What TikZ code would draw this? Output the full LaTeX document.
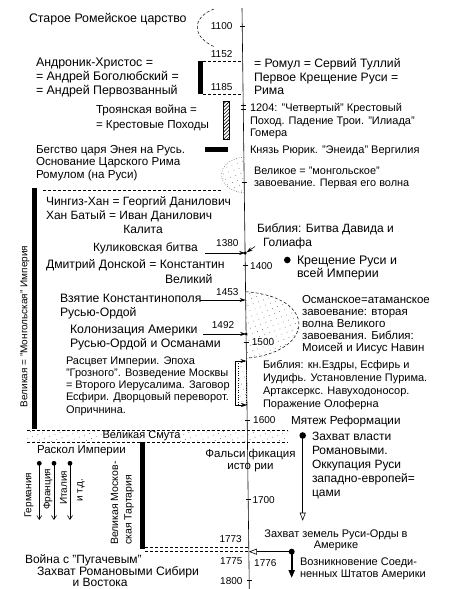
\documentclass[tikz,border=0pt]{standalone}
\usepackage{fontspec}
\setmainfont{Liberation Sans}
\usetikzlibrary{arrows.meta,patterns.meta}
\begin{document}
\begin{tikzpicture}[x=1pt,y=-1pt,
  T/.style 2 args={inner sep=0pt,outer sep=0pt,align=left,anchor=north west,font=\fontsize{#1}{#2}\selectfont},
  Y/.style={inner sep=0pt,anchor=west,font=\fontsize{10}{12}\selectfont},
  R/.style={inner sep=0pt,rotate=90,font=\fontsize{10}{12}\selectfont},
  tickm/.style={line width=0.5pt},
  bar/.style={line width=5pt},
  dashln/.style={dash pattern=on 3pt off 2pt,line width=0.5pt},
  stip/.style={pattern={Dots[distance=5.5pt,radius=0.4pt,angle=20]},pattern color=black!70},
  ar/.style={-{Stealth[length=6pt,width=4pt]},line width=0.6pt},
  opentip/.style={-{Triangle[open,length=8pt,width=6pt]},line width=0.6pt},
  barb/.style={-{Straight Barb[length=4pt,width=5pt]},line width=0.6pt},
]
\useasboundingbox (0,0) rectangle (450,589);

% ---- Smuta band (below the timeline)
\path[stip] (27,430) rectangle (288,442.5);
\draw[dashln] (27,430) -- (288,430);
\draw[dashln] (27,442.5) -- (288,442.5);
\node[fill=white,inner sep=0.5pt,font=\fontsize{11}{13}\selectfont] (smuta) at (141.5,436) {Великая Смута};

% ---- stippled regions
\path[stip] (244.2,157) .. controls (214,160) and (214,190) .. (244.6,193) -- cycle;
\draw[dotted,line width=0.5pt] (244.2,157) .. controls (214,160) and (214,190) .. (244.6,193);
\path[stip] (245.6,291.7) .. controls (318,297) and (315,352) .. (246.4,358.3) -- cycle;
\draw[dashln] (245.6,291.7) .. controls (318,297) and (315,352) .. (246.4,358.3);
\path[stip] (238,361) rectangle (246.5,405);
\draw[dotted,line width=0.4pt] (238,361) rectangle (246.5,405);

% ---- timeline
\coordinate (tTop) at (242,8);
\coordinate (tBot) at (249.3,589);
\draw[line width=0.6pt] (tTop) -- (tBot);
\foreach \xx/\yy in {242.2/26, 243.2/105, 243.3/109, 244.2/182, 245.2/265, 246.2/342, 247.2/420, 248.2/499, 249.2/580}
  \draw[tickm] (\xx-2.5,\yy) -- (\xx+2.5,\yy);

% ---- top arc
\coordinate (arcA) at (214,9);
\coordinate (arcB) at (215,47);
\draw[dashln] (arcA) .. controls (192,17) and (191,37) .. (arcB);
\node[T={12.4}{14}] (rom) at (29,13.5) {Старое Ромейское царство};
\node[Y] (y1100) at (210.7,26) {1100};
\node[Y] (y1152) at (210.7,53.7) {1152};
\node[Y] (y1185) at (210.7,87.3) {1185};

% ---- Andronik
\coordinate (b1t) at (200.8,61);
\coordinate (b1b) at (200.8,94.3);
\draw[bar] (b1t) -- (b1b);
\coordinate (t1152) at (242.7,61);
\coordinate (t1185) at (243.1,94.3);
\draw[dashln] (203.3,61) -- (t1152);
\draw[dashln] (203.3,94.3) -- (t1185);
\node[T={12.4}{13.7}] (andr) at (36,58.2) {Андроник-Христос =\\= Андрей Боголюбский =\\= Андрей Первозванный};
\node[T={12.2}{13.7}] (romul) at (254,58.3) {= Ромул = Сервий Туллий\\Первое Крещение Руси =\\Рима};

% ---- Troy
\draw[pattern={Lines[angle=45,distance=2.5pt,line width=0.6pt]},line width=0.6pt] (223,101) rectangle (229.5,139);
\node[T={11.6}{15}] (troy) at (96,104.9) {Троянская война =\\= Крестовые Походы};
\node[T={11}{12.7}] (y1204) at (250,103.3) {1204: "Четвертый" Крестовый\\Поход. Падение Трои. "Илиада"\\Гомера};

% ---- Aeneas
\fill (205,147.3) rectangle (228.3,151.7);
\node[T={11.6}{12.5}] (enei) at (36,145) {Бегство царя Энея на Русь.\\Основание Царского Рима\\Ромулом (на Руси)};
\node[T={11}{12.5}] (rurik) at (250,146) {Князь Рюрик. "Энеида" Вергилия};
\node[T={10.9}{11.8}] (mong1) at (254,167) {Великое = "монгольское"\\завоевание. Первая его волна};

% ---- Great empire
\draw[dashln] (43,190.7) -- (222,190.7);
\draw[bar] (34,188) -- (34,429.3);
\node[R] (mongol) at (25,326.5) {Великая = "Монгольская" Империя};
\node[T={12}{14.3}] (ching) at (46,196.4) {Чингиз-Хан = Георгий Данилович\\Хан Батый = Иван Данилович};
\node[T={12}{14}] (kalita) at (123.3,225) {Калита};

% ---- Kulikovo
\node[T={12}{14}] (bib1) at (257,223.4) {Библия: Битва Давида и\\\hspace*{6pt}Голиафа};
\node[T={12}{14}] (kulik) at (93,242.4) {Куликовская битва};
\node[Y] (y1380) at (216,243.3) {1380};
\coordinate (k0) at (205,253);
\coordinate (k1) at (245.1,253);
\draw[ar] (k0) -- (k1);
\fill (k1) circle (1.8);
\coordinate (bb0) at (255,246.5);
\coordinate (bb1) at (246.6,252.3);
\draw[ar] (bb0) -- (bb1);
\node[T={12.2}{14}] (dmitr) at (46,259.7) {Дмитрий Донской = Константин};
\node[T={12.2}{14}] (velik) at (165,274) {Великий};
\node[Y] (y1400) at (250,266) {1400};
\coordinate (kd) at (287.3,260);
\fill (kd) circle (3.3);
\node[T={12.4}{13}] (kresh) at (297,255.7) {Крещение Руси и\\всей Империи};

% ---- Constantinople
\node[Y] (y1453) at (216,292.3) {1453};
\coordinate (c0) at (200,300);
\coordinate (c1) at (245.6,300);
\draw[ar] (c0) -- (c1);
\node[T={12.2}{14.3}] (konst) at (60,294) {Взятие Константинополя\\Русью-Ордой};
\node[T={11.5}{12.2}] (osman) at (302,295) {Османское=атаманское\\завоевание: вторая\\волна Великого\\завоевания. Библия:\\Моисей и Иисус Навин};
\node[Y] (y1492) at (211.7,325) {1492};
\coordinate (a0) at (203,334);
\coordinate (a1) at (246.1,334);
\draw[ar] (a0) -- (a1);
\fill (a1) circle (1.5);
\node[T={12.3}{14}] (amer) at (70,325) {Колонизация Америки\\Русью-Ордой и Османами};
\node[Y] (y1500) at (251.7,341.7) {1500};

% ---- Grozny
\coordinate (g0) at (235,361);
\coordinate (g1) at (235,405);
\coordinate (g0e) at (246.4,361);
\coordinate (g1e) at (247,405);
\draw[line width=0.6pt] (g0) -- (g1);
\draw[ar] (g0) -- (g0e);
\draw[ar] (g1) -- (g1e);
\node[T={11}{12.1}] (grozn) at (66,357) {Расцвет Империи. Эпоха\\"Грозного". Возведение Москвы\\= Второго Иерусалима. Заговор\\Есфири. Дворцовый переворот.\\Опричнина.};
\node[T={11}{13}] (bib2) at (263,360) {Библия: кн.Ездры, Есфирь и\\Иудифь. Установление Пурима.\\Артаксеркс. Навуходоносор.\\Поражение Олоферна};
\node[Y] (y1600) at (253,420) {1600};
\node[T={11.7}{14}] (refo) at (291,415.8) {Мятеж Реформации};

% ---- Romanovs
\coordinate (rd) at (302.7,435.5);
\coordinate (rdE) at (302.7,520.7);
\fill (rd) circle (3.3);
\draw[opentip] (rd) -- (rdE);
\node[T={12}{14}] (roman) at (312,432.4) {Захват власти\\Романовыми.\\Оккупация Руси\\западно-европей=\\цами};
\node[T={11.5}{14}] (raskol) at (37,445.8) {Раскол Империи};
\node[inner sep=0pt,align=center,anchor=north,font=\fontsize{11.5}{11.7}\selectfont] (fals) at (250.5,449) {Фальси фикация\\исто рии};
\foreach \xx/\nm in {39.3/ger, 54/fra, 70/ita}{
  \coordinate (\nm0) at (\xx,463.3);
  \coordinate (\nm1) at (\xx,520);
  \fill (\nm0) circle (2.4);
  \draw[barb] (\nm0) -- (\nm1);
}
\node[R,anchor=west] (tger) at (29,518) {Германия};
\node[R,anchor=west] (tfra) at (48,510) {Франция};
\node[R,anchor=west] (tita) at (63.5,505) {Италия};
\node[R,anchor=west] (tetc) at (81,502) {и т.д.};
\coordinate (mt) at (142.5,442);
\coordinate (mb) at (142.5,549);
\draw[bar] (mt) -- (mb);
\node[R,anchor=west,align=left,font=\fontsize{10.5}{13.5}\selectfont] (tart) at (122.3,545) {Великая Москов-\\ская Тартария};
\node[Y] (y1700) at (252.3,500) {1700};

% ---- Pugachev
\node[Y] (y1773) at (219.3,539.3) {1773};
\coordinate (p1) at (248.8,547.3);
\coordinate (p2) at (248.9,551.7);
\draw[dashln] (145,547.3) -- (p1);
\draw[dashln] (145,551.7) -- (p2);
\node[align=center,inner sep=0pt,font=\fontsize{11}{11.7}\selectfont,anchor=north] (zemli) at (336,529.3) {Захват земель Руси-Орды в\\Америке};
\coordinate (ud) at (291.7,551.7);
\coordinate (udE) at (291.7,578);
\draw[opentip] (ud) -- (p2);
\draw[-{Triangle[length=8pt,width=6pt]},line width=2.2pt] (ud) -- (udE);
\fill (ud) circle (3);
\node[Y] (y1775) at (220,560.7) {1775};
\node[Y] (y1776) at (254,562.7) {1776};
\node[Y] (y1800) at (220,580.7) {1800};
\node[T={11}{11.7}] (usa) at (300,557.7) {Возникновение Соеди-\\ненных Штатов Америки};
\node[T={12}{14}] (pug) at (25,554.7) {Война с "Пугачевым"};
\node[T={12.2}{14}] (sib) at (37,566.8) {Захват Романовыми Сибири};
\node[T={12}{14}] (vost) at (72.7,578.6) {и Востока};
\end{tikzpicture}
\end{document}
